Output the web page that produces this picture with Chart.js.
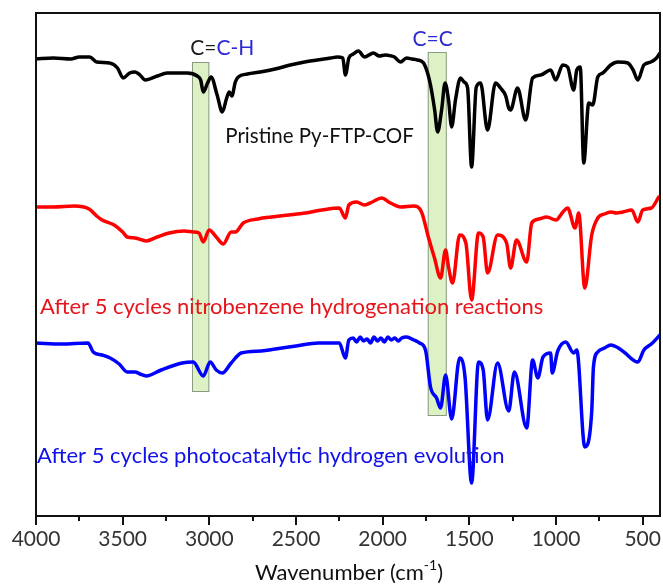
<!DOCTYPE html>
<html><head><meta charset="utf-8">
<script src="https://cdn.jsdelivr.net/npm/chart.js@4.4.1/dist/chart.umd.min.js"></script>
<style>html,body{margin:0;padding:0;background:#fff}#wrap{width:663px;height:586px}</style>
</head><body><div id="wrap"><canvas id="c" width="663" height="586"></canvas></div>
<script>
// Wavenumbers (cm-1) and transmittance (arbitrary units, offset stacked)
const pristineWn = [4000,3900,3800,3750,3690,3650,3575,3530,3497,3460,3428,3400,3370,3300,3243,3180,3128,3070,3050,3035,3010,2990,2955,2925,2900,2885,2870,2850,2833,2780,2706,2620,2533,2450,2377,2300,2261,2230,2215,2195,2170,2140,2105,2053,2020,1984,1950,1932,1897,1862,1830,1799,1764,1741,1724,1700,1683,1660,1640,1620,1602,1580,1551,1530,1510,1487,1460,1435,1395,1349,1320,1290,1273,1262,1222,1175,1135,1088,1031,1002,961,933,898,880,860,840,811,788,759,730,684,644,586,555,528,493,453,420,400];
const pristineT  = [457,458,457,459,459,454,453,448,438,443,444,441,436,440,443,443,443,440,436,424,433,439,421,404,418,424,420,434,439,442,444,447,451,454,456,458,459,458,441,458,462,465,459,463,460,461,460,459,454,458,457,456,453,443,431,406,384,406,433,416,389,416,438,434,428,349,429,433,386,433,428,420,408,406,428,396,438,441,446,436,451,449,426,446,449,353,413,411,439,443,451,454,453,446,436,451,454,458,463];

const nitroWn = [4000,3900,3780,3694,3650,3619,3549,3500,3474,3428,3364,3301,3232,3145,3093,3060,3035,3001,2960,2920,2874,2850,2804,2720,2642,2540,2446,2350,2250,2215,2195,2151,2105,2060,2007,1955,1897,1822,1776,1735,1701,1666,1637,1620,1597,1556,1520,1487,1447,1420,1395,1337,1285,1262,1228,1169,1140,1100,1054,1000,960,933,890,869,834,794,759,720,684,650,614,563,528,500,450,407];
const nitroT  = [309,309,310,307,300,296,291,284,279,278,275,279,283,285,284,283,274,286,279,272,284,284,293,297,299,301,303,306,308,298,311,314,311,314,318,313,309,310,304,278,258,238,266,249,233,281,273,216,283,279,243,281,273,248,276,254,293,297,299,296,304,308,288,303,228,281,298,302,304,303,304,306,294,306,308,319];

const photoWn = [4000,3850,3700,3670,3620,3572,3520,3474,3428,3400,3364,3278,3157,3093,3035,2995,2960,2925,2874,2816,2700,2619,2500,2371,2250,2215,2195,2170,2150,2130,2110,2090,2070,2050,2030,2010,1990,1970,1950,1930,1910,1890,1862,1820,1787,1753,1724,1689,1666,1637,1602,1556,1525,1487,1447,1420,1395,1337,1273,1240,1169,1135,1105,1075,1031,1022,990,944,898,880,834,794,784,759,720,684,650,608,528,493,450,400];
const photoT  = [173,172,173,164,161,158,152,144,144,142,140,146,153,154,140,154,146,143,153,163,165,167,170,173,173,158,176,178,174,179,175,177,173,179,175,178,174,179,176,178,175,178,179,176,173,166,129,118,108,141,97,158,139,33,154,146,96,153,105,144,88,156,138,159,163,143,165,174,163,166,69,104,149,164,168,171,169,164,154,166,172,181];

const xTicks = [4000,3750,3500,3250,3000,2750,2500,2250,2000,1750,1500,1250,1000,750,500];

// highlighted bands: [wn from, wn to, T bottom, T top]
const bands = [[3100,3000,124,454],[1740,1630,100,464]];

const pts = (wn, t) => wn.map((w, i) => ({x: w, y: t[i]}));

const notes = [
  {wn:3110, t:461, size:21, parts:[['C=','#1a1a1a'],['C-H','#2b2bd0']]},
  {wn:1828, t:470, size:21, parts:[['C=C','#2b2bd0']]},
  {wn:2908, t:373, size:20.5, parts:[['Pristine Py-FTP-COF','#111']]},
  {wn:3977, t:202, size:22, parts:[['After 5 cycles nitrobenzene hydrogenation reactions','#e8141c']]},
  {wn:3994, t:53,  size:22, parts:[['After 5 cycles photocatalytic hydrogen evolution','#1010e8']]}
];

const FONT = 'Lato, "Open Sans", sans-serif';

const decor = {
  id: 'decor',
  beforeDatasetsDraw(chart) {
    const {ctx, scales:{x, y}} = chart;
    ctx.save();
    bands.forEach(([a, b, lo, hi]) => {
      const x1 = x.getPixelForValue(a), x2 = x.getPixelForValue(b);
      const y1 = y.getPixelForValue(hi), y2 = y.getPixelForValue(lo);
      ctx.fillStyle = '#dcf2c4';
      ctx.fillRect(x1, y1, x2 - x1, y2 - y1);
      ctx.strokeStyle = '#8c9a84';
      ctx.lineWidth = 1;
      ctx.strokeRect(x1 + 0.5, y1 + 0.5, x2 - x1 - 1, y2 - y1 - 1);
    });
    ctx.restore();
  },
  afterDatasetsDraw(chart) {
    const {ctx, chartArea:a, scales:{x, y}} = chart;
    ctx.save();
    // frame
    ctx.strokeStyle = '#111';
    ctx.lineWidth = 2;
    ctx.strokeRect(a.left, a.top, a.right - a.left, a.bottom - a.top);
    // tick marks
    xTicks.forEach(v => {
      const px = Math.round(x.getPixelForValue(v));
      ctx.beginPath();
      ctx.moveTo(px, a.bottom);
      ctx.lineTo(px, a.bottom + (v % 500 === 0 ? 9 : 5));
      ctx.stroke();
    });
    // annotations
    ctx.textBaseline = 'alphabetic';
    notes.forEach(n => {
      ctx.font = n.size + 'px ' + FONT;
      let px = x.getPixelForValue(n.wn);
      const py = y.getPixelForValue(n.t);
      n.parts.forEach(([s, c]) => {
        ctx.fillStyle = c;
        ctx.fillText(s, px, py);
        px += ctx.measureText(s).width;
      });
    });
    // axis title with superscript
    const base = 'Wavenumber (cm', sup = '-1', end = ')';
    ctx.font = '22px ' + FONT;
    const w1 = ctx.measureText(base).width, w3 = ctx.measureText(end).width;
    ctx.font = '14px ' + FONT;
    const w2 = ctx.measureText(sup).width;
    const cx = (a.left + a.right) / 2 + 1;
    let sx = cx - (w1 + w2 + w3) / 2;
    const by = a.bottom + 64;
    ctx.fillStyle = '#111';
    ctx.font = '22px ' + FONT;
    ctx.fillText(base, sx, by);
    sx += w1;
    ctx.font = '14px ' + FONT;
    ctx.fillText(sup, sx, by - 10);
    sx += w2;
    ctx.font = '22px ' + FONT;
    ctx.fillText(end, sx, by);
    ctx.restore();
  }
};

const line = (data, color) => ({
  data, borderColor: color, borderWidth: 3.5, pointRadius: 0, cubicInterpolationMode: 'monotone', fill: false,
  borderJoinStyle: 'round', borderCapStyle: 'round'
});

new Chart(document.getElementById('c'), {
  type: 'line',
  data: {
    datasets: [
      line(pts(pristineWn, pristineT), '#000'),
      line(pts(nitroWn, nitroT), '#ff0000'),
      line(pts(photoWn, photoT), '#0000ff')
    ]
  },
  options: {
    responsive: false,
    animation: false,
    devicePixelRatio: 1,
    layout: {padding: {left: 36, right: 3, top: 13, bottom: 0}},
    plugins: {legend: {display: false}, tooltip: {enabled: false}},
    scales: {
      x: {
        type: 'linear', reverse: true, min: 400, max: 4000,
        afterBuildTicks: s => { s.ticks = xTicks.filter(v => v % 500 === 0).map(v => ({value: v})); },
        afterFit: s => { s.height = 70; s.paddingLeft = 0; s.paddingRight = 0; },
        grid: {display: false},
        border: {display: false},
        ticks: {
          font: {family: FONT, size: 21}, color: '#333', padding: 3, maxRotation: 0, autoSkip: false,
          callback: v => String(v)
        }
      },
      y: {display: false, min: 0, max: 503}
    }
  },
  plugins: [decor]
});
</script>
</body></html>
